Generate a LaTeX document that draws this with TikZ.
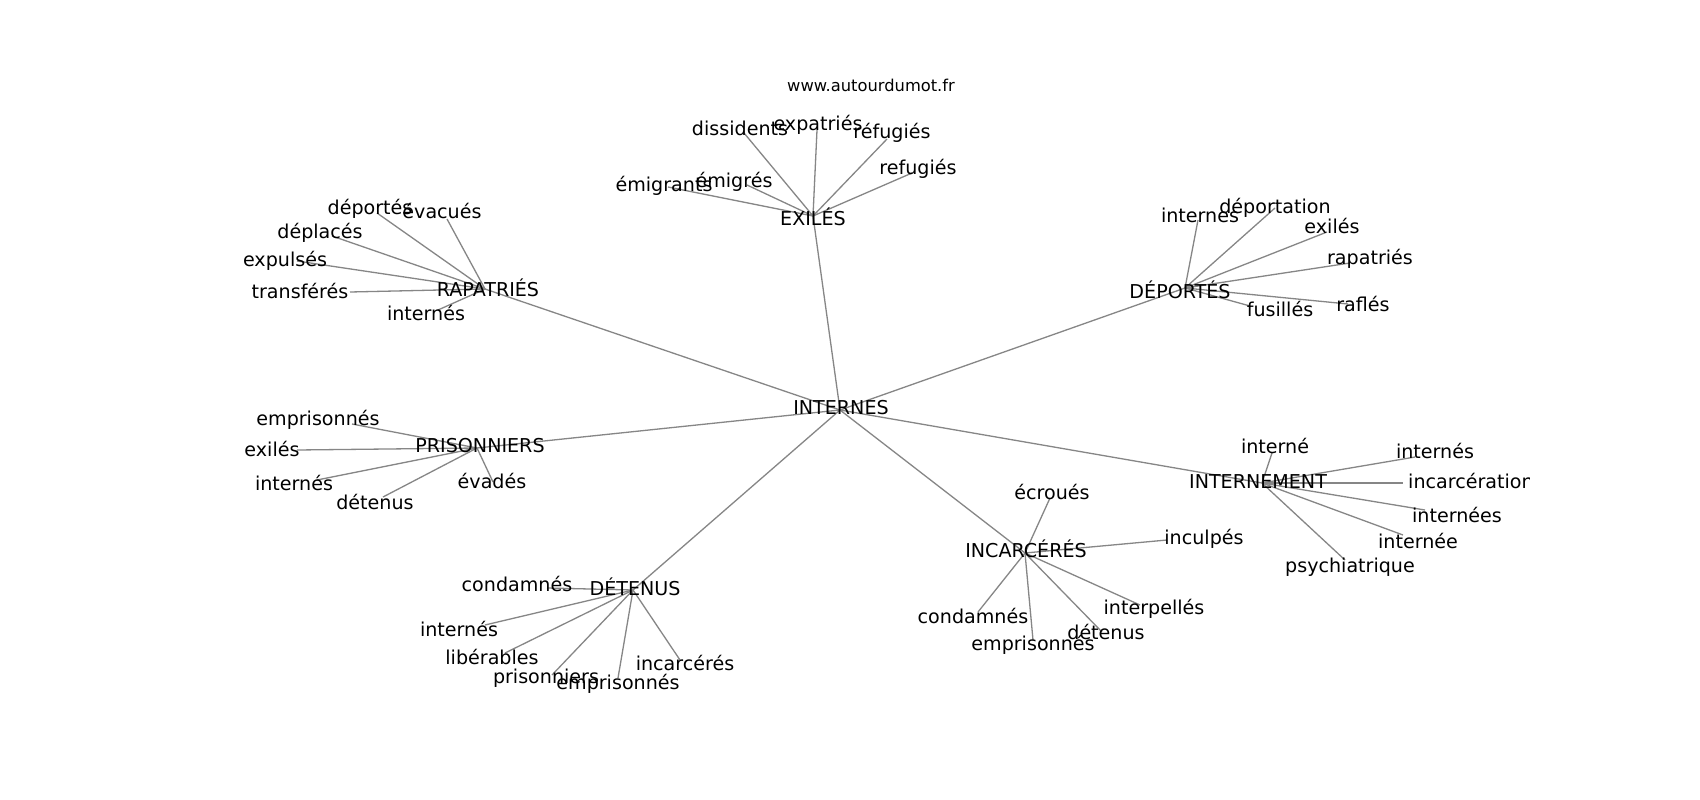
\documentclass[tikz,border=0pt]{standalone}
\usepackage{fontspec}
\setmainfont{DejaVu Sans}
\begin{document}
\begin{tikzpicture}[x=1pt,y=-1pt,
  lbl/.style={inner sep=0pt,anchor=center,text height=0.73em,text depth=0.2em,font=\fontsize{19.1}{23}\selectfont,text=black,yshift=-4pt},
  small/.style={inner sep=0pt,anchor=center,font=\fontsize{16.3}{20}\selectfont,text=black,yshift=-2pt},
  edge/.style={draw=gray!95,line width=1.3pt}]
\useasboundingbox[fill=white] (0,0) rectangle (1700,800);
% hub coordinates
\coordinate (hIN) at (840,410);
\coordinate (hEX) at (813,216);
\coordinate (hRA) at (485,289);
\coordinate (hDE) at (1185,288);
\coordinate (hPR) at (477,448);
\coordinate (hDT) at (633,590);
\coordinate (hIC) at (1025,553);
\coordinate (hIM) at (1262,483);
% leaf coordinates
\coordinate (ex1) at (744,133);
\coordinate (ex2) at (817,130);
\coordinate (ex3) at (887,139);
\coordinate (ex4) at (912,173);
\coordinate (ex5) at (668,187);
\coordinate (ex6) at (747,185);
\coordinate (ra1) at (377,213);
\coordinate (ra2) at (447,219);
\coordinate (ra3) at (332,236);
\coordinate (ra4) at (297,261);
\coordinate (ra5) at (350,292);
\coordinate (ra6) at (438,310);
\coordinate (de1) at (1198,220);
\coordinate (de2) at (1275,208);
\coordinate (de3) at (1327,232);
\coordinate (de4) at (1350,263);
\coordinate (de5) at (1348,304);
\coordinate (de6) at (1250,306);
\coordinate (pr1) at (352,424);
\coordinate (pr2) at (297,450);
\coordinate (pr3) at (317,480);
\coordinate (pr4) at (383,497);
\coordinate (pr5) at (493,482);
\coordinate (dt1) at (547,588);
\coordinate (dt2) at (485,625);
\coordinate (dt3) at (505,653);
\coordinate (dt4) at (552,675);
\coordinate (dt5) at (618,678);
\coordinate (dt6) at (680,660);
\coordinate (ic1) at (1050,498);
\coordinate (ic2) at (1167,540);
\coordinate (ic3) at (1140,605);
\coordinate (ic4) at (1102,632);
\coordinate (ic5) at (1033,640);
\coordinate (ic6) at (978,612);
\coordinate (im1) at (1272,453);
\coordinate (im2) at (1415,457);
\coordinate (im3) at (1403,483);
\coordinate (im4) at (1425,510);
\coordinate (im5) at (1403,535);
\coordinate (im6) at (1345,560);
% edges
\foreach \h in {hEX,hRA,hDE,hPR,hDT,hIC,hIM} \draw[edge] (hIN) -- (\h);
\foreach \l in {ex1,ex2,ex3,ex4,ex5,ex6} \draw[edge] (hEX) -- (\l);
\foreach \l in {ra1,ra2,ra3,ra4,ra5,ra6} \draw[edge] (hRA) -- (\l);
\foreach \l in {de1,de2,de3,de4,de5,de6} \draw[edge] (hDE) -- (\l);
\foreach \l in {pr1,pr2,pr3,pr4,pr5} \draw[edge] (hPR) -- (\l);
\foreach \l in {dt1,dt2,dt3,dt4,dt5,dt6} \draw[edge] (hDT) -- (\l);
\foreach \l in {ic1,ic2,ic3,ic4,ic5,ic6} \draw[edge] (hIC) -- (\l);
\foreach \l in {im1,im2,im3,im4,im5,im6} \draw[edge] (hIM) -- (\l);
% title
\node[small] (www) at (871,83) {www.autourdumot.fr};
% hub labels
\node[lbl] (tIN) at (841,408) {INTERNES};
\node[lbl] (tEX) at (813,219) {EXILÉS};
\node[lbl] (tRA) at (488,290) {RAPATRIÉS};
\node[lbl] (tDE) at (1180,292) {DÉPORTÉS};
\node[lbl] (tPR) at (480,446) {PRISONNIERS};
\node[lbl] (tDT) at (635,589) {DÉTENUS};
\node[lbl] (tIC) at (1026,551) {INCARCÉRÉS};
\node[lbl] (tIM) at (1258,482) {INTERNEMENT};
% leaf labels
\node[lbl] (tex1) at (740,129) {dissidents};
\node[lbl] (tex2) at (818,124) {expatriés};
\node[lbl] (tex3) at (892,132) {réfugiés};
\node[lbl] (tex4) at (918,168) {refugiés};
\node[lbl] (tex5) at (664,185) {émigrants};
\node[lbl] (tex6) at (734,181) {émigrés};
\node[lbl] (tra1) at (370,208) {déportés};
\node[lbl] (tra2) at (442,212) {évacués};
\node[lbl] (tra3) at (320,232) {déplacés};
\node[lbl] (tra4) at (285,260) {expulsés};
\node[lbl] (tra5) at (300,292) {transférés};
\node[lbl] (tra6) at (426,314) {internés};
\node[lbl] (tde1) at (1200,216) {internes};
\node[lbl] (tde2) at (1275,207) {déportation};
\node[lbl] (tde3) at (1332,227) {exilés};
\node[lbl] (tde4) at (1370,258) {rapatriés};
\node[lbl] (tde5) at (1363,305) {raflés};
\node[lbl] (tde6) at (1280,310) {fusillés};
\node[lbl] (tpr1) at (318,419) {emprisonnés};
\node[lbl] (tpr2) at (272,450) {exilés};
\node[lbl] (tpr3) at (294,484) {internés};
\node[lbl] (tpr4) at (375,503) {détenus};
\node[lbl] (tpr5) at (492,482) {évadés};
\node[lbl] (tdt1) at (517,585) {condamnés};
\node[lbl] (tdt2) at (459,630) {internés};
\node[lbl] (tdt3) at (492,658) {libérables};
\node[lbl] (tdt4) at (546,677) {prisonniers};
\node[lbl] (tdt5) at (618,683) {emprisonnés};
\node[lbl] (tdt6) at (685,664) {incarcérés};
\node[lbl] (tic1) at (1052,493) {écroués};
\node[lbl] (tic2) at (1204,538) {inculpés};
\node[lbl] (tic3) at (1154,608) {interpellés};
\node[lbl] (tic4) at (1106,633) {détenus};
\node[lbl] (tic5) at (1033,644) {emprisonnés};
\node[lbl] (tic6) at (973,617) {condamnés};
\node[lbl] (tim1) at (1275,447) {interné};
\node[lbl] (tim2) at (1435,452) {internés};
\begin{scope}
\clip (1380,460) rectangle (1529,510);
\node[lbl,anchor=west] (tim3) at (1408,482) {incarcération};
\end{scope}
\node[lbl] (tim4) at (1457,516) {internées};
\node[lbl] (tim5) at (1418,542) {internée};
\node[lbl] (tim6) at (1350,566) {psychiatrique};
\end{tikzpicture}
\end{document}
